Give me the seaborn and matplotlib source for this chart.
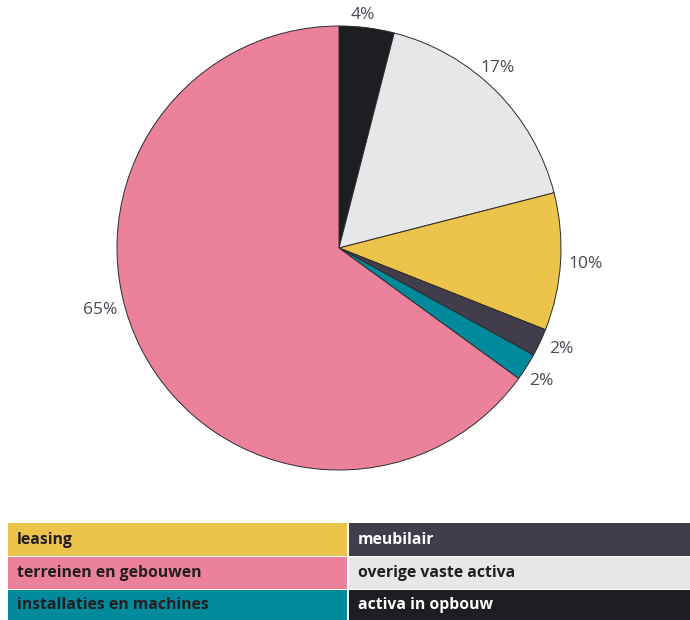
import numpy as np
import matplotlib.pyplot as plt
import seaborn as sns
from matplotlib.patches import Rectangle

# slices, clockwise from the top
categories = ["activa in opbouw", "overige vaste activa", "leasing",
              "meubilair", "installaties en machines", "terreinen en gebouwen"]
shares = [4, 17, 10, 2, 2, 65]
colors = ["#1D1E22", "#E6E7E9", "#ECC34B", "#423D4A", "#008A9B", "#EC819B"]

# legend grid (column-major: left column, then right column)
legend_order = ["leasing", "terreinen en gebouwen", "installaties en machines",
                "meubilair", "overige vaste activa", "activa in opbouw"]
dark_boxes = ["meubilair", "activa in opbouw"]

# label placement tweaks (distance from centre, extra clockwise angle in degrees)
label_dist = [1.055, 1.08, 1.115, 1.10, 1.09, 1.11]
label_shift = [-1.3, -3.5, 0, -0.7, 1.0, 12.5]

sns.set_theme(style="white")
plt.rcParams['font.family'] = ['Open Sans', 'DejaVu Sans']

fig = plt.figure(figsize=(6.9, 6.2), dpi=100)
W, H = 690, 620
cx, cy, r = 339, 248, 222
ax = fig.add_axes([(cx - r) / W, (H - cy - r) / H, 2 * r / W, 2 * r / H])

wedges, texts = ax.pie(shares, labels=[f"{v}%" for v in shares], colors=colors,
                       startangle=90, counterclock=False, labeldistance=1.09,
                       wedgeprops=dict(edgecolor="#2b2b2b", linewidth=0.7),
                       textprops=dict(color="#4a4a55", fontsize=12.5, ha="center", va="center"))
for w, t, d, s in zip(wedges, texts, label_dist, label_shift):
    mid = np.deg2rad((w.theta1 + w.theta2) / 2 - s)
    t.set_position((d * np.cos(mid), d * np.sin(mid)))
ax.set_xlim(-1, 1)
ax.set_ylim(-1, 1)
ax.set_aspect("equal")
ax.axis("off")

# legend table at the bottom
col_x = [(8, 347), (349, 690)]
row_y = [(523, 556), (557, 589), (590, 620)]
color_of = dict(zip(categories, colors))
for i, name in enumerate(legend_order):
    c, rr = divmod(i, 3)
    x0, x1 = col_x[c]
    y0, y1 = row_y[rr]
    fig.patches.append(Rectangle((x0 / W, 1 - y1 / H), (x1 - x0) / W, (y1 - y0) / H,
                                 transform=fig.transFigure, facecolor=color_of[name],
                                 edgecolor="none"))
    tc = "white" if name in dark_boxes else "#231f20"
    fig.text((x0 + 9) / W, 1 - (y0 + y1) / 2 / H, name, color=tc,
             fontsize=11.3, fontweight="bold", ha="left", va="center")

fig.savefig("out.png", dpi=100)
